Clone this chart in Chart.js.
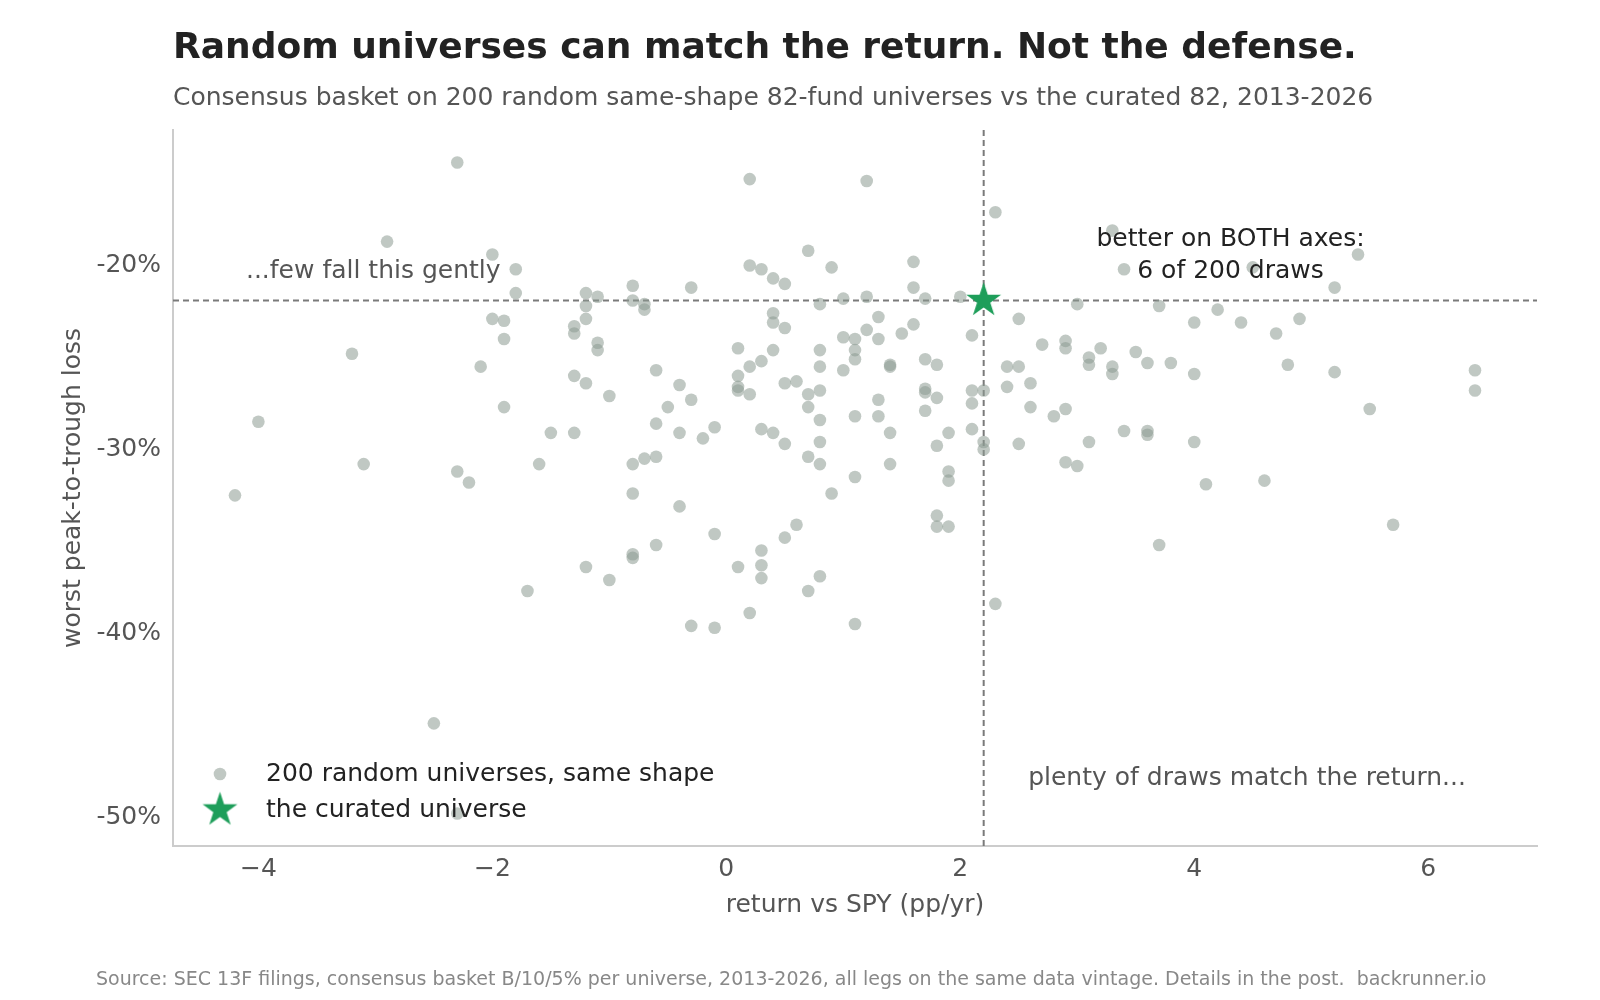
<!DOCTYPE html>
<html>
<head>
<meta charset="utf-8">
<title>Random universes can match the return. Not the defense.</title>
<script src="https://cdn.jsdelivr.net/npm/chart.js@4.4.1/dist/chart.umd.min.js"></script>
<style>
  html, body { margin: 0; padding: 0; background: #fff; }
  #wrap { position: relative; width: 1600px; height: 1000px; font-family: "DejaVu Sans", sans-serif; }
  #chart-area { position: absolute; left: 0; top: 0; }
  .title { position: absolute; left: 173px; top: 23px; margin: 0; font-size: 36px; font-weight: bold; color: #222; line-height: 46px; white-space: nowrap; }
  .subtitle { position: absolute; left: 173px; top: 81px; font-size: 25px; color: #555; line-height: 32px; white-space: nowrap; }
  .source { position: absolute; left: 96px; top: 966px; font-size: 19px; color: #888; line-height: 24px; white-space: pre; }
</style>
</head>
<body>
<div id="wrap">
  <canvas id="chart-area" width="1600" height="1000"></canvas>
  <h1 class="title">Random universes can match the return. Not the defense.</h1>
  <div class="subtitle">Consensus basket on 200 random same-shape 82-fund universes vs the curated 82, 2013-2026</div>
  <div class="source">Source: SEC 13F filings, consensus basket B/10/5% per universe, 2013-2026, all legs on the same data vintage. Details in the post.  backrunner.io</div>
</div>
<script>
// return vs SPY (pp/yr) and worst drawdown (%) for each random draw
var drawX = [
  -2.3, -2.9, -2.0, -1.8, -1.8, -1.2, -1.1, -1.2, -2.0, -1.9,
  -1.2, -1.3, -1.3, -1.9, -1.1, -1.1, -3.2, -2.1, -1.3, -1.2,
  -1.0, -1.9, -4.0, -1.5, -1.3, -3.1, -1.6, -2.3, -2.2,
  -4.2, -1.7, -1.2, -1.0, -2.5, -2.3,
  0.2, 1.2, 2.3, 0.7, 1.6, 0.2, 0.3, 0.9, 0.4, 0.5,
  -0.8, -0.3, 1.6, -0.8, -0.7, -0.7, 0.8, 1.0, 1.2, 1.7,
  2.0, 0.4, 0.4, 0.5, 1.3, 1.6, 1.5, 1.2, 1.0, 1.1,
  1.3, 2.1, 2.5, 2.7, 2.9, 2.9, 0.1, 0.4, 0.8, 1.1,
  1.1, 0.3, 0.2, 0.8, 1.0, 1.4, 1.4, 1.7, 1.8, -0.6,
  -0.4, 0.1, 0.1, 0.1, 0.2, 0.5, 0.6, 0.8, 0.7, 0.7,
  1.7, 1.7, 1.8, 2.1, 2.2, 2.1, 2.4, 2.5, 2.4, 2.6,
  2.6, 2.8, 2.9, -0.5, -0.3, -0.6, -0.4, -0.2, -0.1, -0.8,
  -0.7, -0.6, 0.3, 0.4, 0.5, 0.8, 0.8, 0.7, 0.8, 1.1,
  1.3, 1.3, 1.4, 1.1, 1.4, 1.7, 1.9, 1.8, 1.9, 1.9,
  2.1, 2.2, 2.2, 2.5, 2.9,
  -0.8, -0.4, -0.1, -0.6, -0.8, -0.8, 0.1, 0.3, 0.3, 0.3,
  0.5, 0.6, 0.9, 1.8, 1.8, 1.9, 0.8, 0.7, 0.2, -0.3,
  -0.1, 1.1, 2.3,
  3.3, 3.4, 4.5, 5.4, 5.2, 3.0, 3.7, 4.2, 4.0, 4.4,
  4.7, 4.9, 3.2, 3.1, 3.1, 3.3, 3.3, 3.5, 3.6, 3.8,
  4.0, 4.8, 5.2, 6.4, 6.4, 5.5, 3.4, 3.6, 3.6, 3.1,
  4.0, 3.0, 4.1, 4.6, 5.7, 3.7
];
var drawY = [
  -14.4, -18.7, -19.4, -20.2, -21.5, -21.5, -21.7, -22.2, -22.9, -23.0,
  -22.9, -23.3, -23.7, -24.0, -24.2, -24.6, -24.8, -25.5, -26.0, -26.4,
  -27.1, -27.7, -28.5, -29.1, -29.1, -30.8, -30.8, -31.2, -31.8,
  -32.5, -37.7, -36.4, -37.1, -44.9, -49.8,
  -15.3, -15.4, -17.1, -19.2, -19.8, -20.0, -20.2, -20.1, -20.7, -21.0,
  -21.1, -21.2, -21.2, -21.9, -22.1, -22.4, -22.1, -21.8, -21.7, -21.8,
  -21.7, -22.6, -23.1, -23.4, -22.8, -23.2, -23.7, -23.5, -23.9, -24.0,
  -24.0, -23.8, -22.9, -24.3, -24.1, -24.5, -24.5, -24.6, -24.6, -24.6,
  -25.1, -25.2, -25.5, -25.5, -25.7, -25.4, -25.5, -25.1, -25.4, -25.7,
  -26.5, -26.0, -26.6, -26.8, -27.0, -26.4, -26.3, -26.8, -27.0, -27.7,
  -26.7, -26.9, -27.2, -26.8, -26.8, -27.5, -25.5, -25.5, -26.6, -26.4,
  -27.7, -28.2, -27.8, -27.7, -27.3, -28.6, -29.1, -29.4, -28.8, -30.8,
  -30.5, -30.4, -28.9, -29.1, -29.7, -28.4, -29.6, -30.4, -30.8, -28.2,
  -27.3, -28.2, -29.1, -31.5, -30.8, -27.9, -29.1, -29.8, -31.2, -31.7,
  -28.9, -29.6, -30.0, -29.7, -30.7,
  -32.4, -33.1, -34.6, -35.2, -35.7, -35.9, -36.4, -35.5, -36.3, -37.0,
  -34.8, -34.1, -32.4, -33.6, -34.2, -34.2, -36.9, -37.7, -38.9, -39.6,
  -39.7, -39.5, -38.4,
  -18.1, -20.2, -20.1, -19.4, -21.2, -22.1, -22.2, -22.4, -23.1, -23.1,
  -23.7, -22.9, -24.5, -25.0, -25.4, -25.5, -25.9, -24.7, -25.3, -25.3,
  -25.9, -25.4, -25.8, -25.7, -26.8, -27.8, -29.0, -29.0, -29.2, -29.6,
  -29.6, -30.9, -31.9, -31.7, -34.1, -35.2
];
// the curated universe
var curatedX = 2.2;
var curatedY = -21.9;

var xTicks = [-4, -2, 0, 2, 4, 6];
var yTicks = [-50, -40, -30, -20];
var xMin = -4.73, xMax = 6.93;
var yMin = -51.57, yMax = -12.63;

var notes = [
  { text: '...few fall this gently', x: -1.93, y: -20.32, align: 'right', color: '#555' },
  { text: 'better on BOTH axes:', x: 4.31, y: -18.6, align: 'center', color: '#222' },
  { text: '6 of 200 draws', x: 4.31, y: -20.32, align: 'center', color: '#222' },
  { text: 'plenty of draws match the return...', x: 2.58, y: -47.88, align: 'left', color: '#555' }
];

var FONT = 'DejaVu Sans';
var dotColor = 'rgba(140,155,145,0.55)';
var starColor = '#1e9e5a';
Chart.defaults.font.family = FONT;

function makeStar(r, color) {
  var s = Math.ceil(r * 2) + 2;
  var c = document.createElement('canvas');
  c.width = s; c.height = s;
  var g = c.getContext('2d');
  g.translate(s / 2, s / 2);
  g.beginPath();
  for (var i = 0; i < 10; i++) {
    var rr = i % 2 === 0 ? r : r * 0.382;
    var a = -Math.PI / 2 + i * Math.PI / 5;
    if (i === 0) g.moveTo(rr * Math.cos(a), rr * Math.sin(a));
    else g.lineTo(rr * Math.cos(a), rr * Math.sin(a));
  }
  g.closePath();
  g.fillStyle = color;
  g.fill();
  return c;
}
var star = makeStar(18.3, starColor);

var randomPoints = drawX.map(function (x, i) { return { x: x, y: drawY[i] }; });

var guides = {
  id: 'guides',
  beforeDatasetsDraw: function (chart) {
    var ctx = chart.ctx, ca = chart.chartArea;
    var px = chart.scales.x.getPixelForValue(curatedX);
    var py = chart.scales.y.getPixelForValue(curatedY);
    ctx.save();
    ctx.strokeStyle = '#7a7a7a';
    ctx.lineWidth = 2;
    ctx.setLineDash([6, 4]);
    ctx.beginPath();
    ctx.moveTo(px, ca.top); ctx.lineTo(px, ca.bottom);
    ctx.moveTo(ca.left, py); ctx.lineTo(ca.right, py);
    ctx.stroke();
    ctx.restore();
  }
};

var labels = {
  id: 'labels',
  afterDatasetsDraw: function (chart) {
    var ctx = chart.ctx, ca = chart.chartArea;
    ctx.save();
    ctx.font = '25px "' + FONT + '"';
    ctx.textBaseline = 'middle';
    notes.forEach(function (n) {
      ctx.fillStyle = n.color;
      ctx.textAlign = n.align;
      ctx.fillText(n.text, chart.scales.x.getPixelForValue(n.x), chart.scales.y.getPixelForValue(n.y));
    });
    // legend, lower left inside the axes
    var lx = ca.left + 47;
    var ds = chart.data.datasets;
    ctx.fillStyle = dotColor;
    ctx.beginPath();
    ctx.arc(lx, ca.bottom - 72, 6.3, 0, Math.PI * 2);
    ctx.fill();
    ctx.drawImage(star, lx - star.width / 2, ca.bottom - 36 - star.height / 2);
    ctx.fillStyle = '#222';
    ctx.textAlign = 'left';
    ctx.fillText(ds[0].label, lx + 46, ca.bottom - 72);
    ctx.fillText(ds[1].label, lx + 46, ca.bottom - 36);
    ctx.restore();
  }
};

var config = {
  type: 'scatter',
  data: {
    datasets: [{
      label: '200 random universes, same shape',
      data: randomPoints,
      backgroundColor: dotColor,
      borderWidth: 0,
      pointRadius: 6.3,
      pointHoverRadius: 6.3
    }, {
      label: 'the curated universe',
      data: [{ x: curatedX, y: curatedY }],
      pointStyle: star,
      pointRadius: 18,
      pointHoverRadius: 18
    }]
  },
  options: {
    responsive: false,
    animation: false,
    devicePixelRatio: 1,
    layout: { padding: { left: 40, right: 63, top: 130, bottom: 54 } },
    plugins: {
      legend: { display: false },
      tooltip: { enabled: false }
    },
    scales: {
      x: {
        type: 'linear',
        min: xMin,
        max: xMax,
        afterBuildTicks: function (s) { s.ticks = xTicks.map(function (v) { return { value: v }; }); },
        afterFit: function (s) { s.height = 100; },
        grid: { display: false, drawTicks: false },
        border: { color: '#ccc', width: 2 },
        ticks: {
          font: { size: 25 },
          color: '#555',
          padding: 8,
          callback: function (v) { return v < 0 ? '\u2212' + Math.abs(v) : String(v); }
        },
        title: {
          display: true,
          text: 'return vs SPY (pp/yr)',
          font: { size: 25 },
          color: '#555',
          padding: { top: 0, bottom: 26 }
        }
      },
      y: {
        type: 'linear',
        min: yMin,
        max: yMax,
        afterBuildTicks: function (s) { s.ticks = yTicks.map(function (v) { return { value: v }; }); },
        afterFit: function (s) { s.width = 133; },
        grid: { display: false, drawTicks: false },
        border: { color: '#ccc', width: 2 },
        ticks: {
          font: { size: 25 },
          color: '#555',
          padding: 12,
          callback: function (v) { return v + '%'; }
        },
        title: {
          display: true,
          text: 'worst peak-to-trough loss',
          font: { size: 25 },
          color: '#555',
          padding: { top: 18, bottom: 0 }
        }
      }
    }
  },
  plugins: [guides, labels]
};

var context = document.getElementById('chart-area').getContext('2d');
window.myScatter = new Chart(context, config);
</script>
</body>
</html>
